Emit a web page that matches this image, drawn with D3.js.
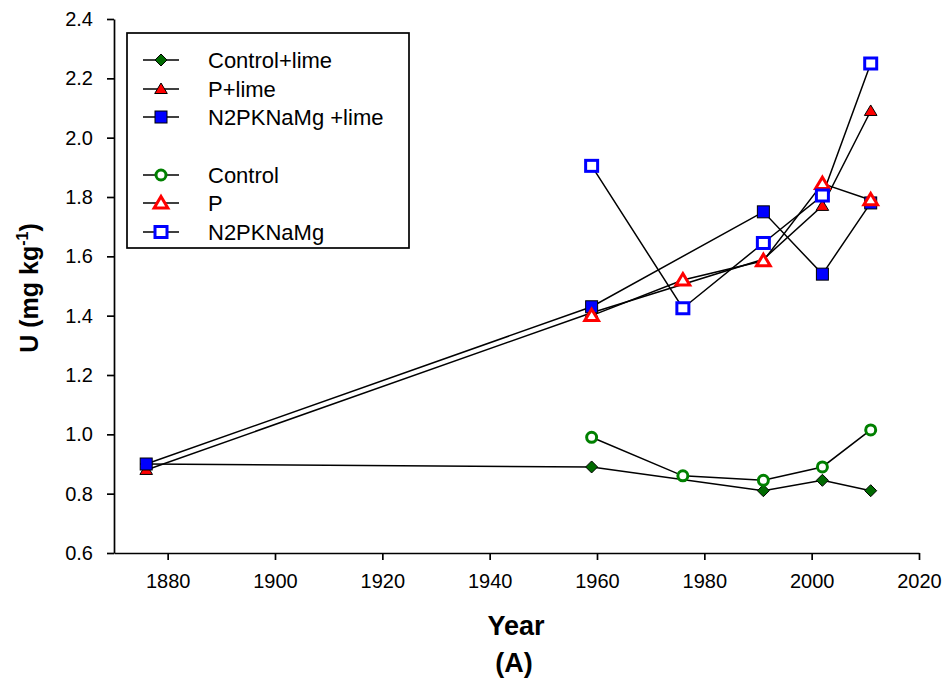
<!DOCTYPE html>
<html>
<head>
<meta charset="utf-8">
<script src="https://cdn.jsdelivr.net/npm/d3@7/dist/d3.min.js"></script>
<style>
  html, body { margin: 0; padding: 0; background: #fff; }
  svg text { font-family: "Liberation Sans", Arial, sans-serif; fill: #000; }
</style>
</head>
<body>
<svg id="chart" width="948" height="684"></svg>
<script>
// Sampling years
const yearsLime = [1876, 1959, 1991, 2002, 2011];
const yearsOpen = [1959, 1976, 1991, 2002, 2011];

// U concentrations (mg/kg)
const controlLime = [0.90, 0.89, 0.81, 0.845, 0.81];
const pLime       = [0.88, 1.41, 1.59, 1.77, 2.09];
const npkLime     = [0.90, 1.43, 1.75, 1.54, 1.78];
const control     = [0.99, 0.86, 0.845, 0.89, 1.015];
const pOnly       = [1.40, 1.52, 1.585, 1.845, 1.79];
const npk         = [1.905, 1.425, 1.645, 1.805, 2.25];

const xTicks = [1880, 1900, 1920, 1940, 1960, 1980, 2000, 2020];
const yTicks = [0.6, 0.8, 1.0, 1.2, 1.4, 1.6, 1.8, 2.0, 2.2, 2.4];

const seriesNames = ["Control+lime", "P+lime", "N2PKNaMg +lime", "Control", "P", "N2PKNaMg"];

const svg = d3.select("#chart");

const x = d3.scaleLinear().domain([1870, 2020]).range([114, 919]);
const y = d3.scaleLinear().domain([0.6, 2.4]).range([553, 19]);

const GREEN = "#008000", DKGREEN = "#006a00", RED = "#ff0000", BLUE = "#0000ff";

const series = [
  { name: seriesNames[0], years: yearsLime, vals: controlLime, shape: "diamond",  fill: DKGREEN, stroke: "#000", sw: 1 },
  { name: seriesNames[1], years: yearsLime, vals: pLime,       shape: "triangle", fill: RED,     stroke: "#000", sw: 1 },
  { name: seriesNames[2], years: yearsLime, vals: npkLime,     shape: "square",   fill: BLUE,    stroke: "#000", sw: 1 },
  { name: seriesNames[3], years: yearsOpen, vals: control,     shape: "circle",   fill: "#fff",  stroke: GREEN,  sw: 3 },
  { name: seriesNames[4], years: yearsOpen, vals: pOnly,       shape: "triangle", fill: "#fff",  stroke: RED,    sw: 3 },
  { name: seriesNames[5], years: yearsOpen, vals: npk,         shape: "square",   fill: "#fff",  stroke: BLUE,   sw: 3 }
];

// Marker drawing helper
function marker(g, s, cx, cy) {
  const open = s.fill === "#fff";
  let el;
  if (s.shape === "square") {
    const w = open ? 12 : 12, h = open ? 11 : 12;
    el = g.append("rect").attr("x", cx - w / 2).attr("y", cy - h / 2).attr("width", w).attr("height", h);
  } else if (s.shape === "circle") {
    el = g.append("circle").attr("cx", cx).attr("cy", cy).attr("r", 5);
  } else if (s.shape === "triangle") {
    const r = open ? 6.5 : 6;
    el = g.append("path").attr("d",
      `M${cx},${cy - r}L${cx + r * 1.05},${cy + r * 0.75}L${cx - r * 1.05},${cy + r * 0.75}Z`);
  } else {
    const r = 6;
    el = g.append("path").attr("d", `M${cx},${cy - r}L${cx + r},${cy}L${cx},${cy + r}L${cx - r},${cy}Z`);
  }
  el.attr("fill", s.fill).attr("stroke", s.stroke).attr("stroke-width", s.sw);
}

// Axes
const xAxis = svg.append("g").attr("transform", `translate(0,${y(0.6)})`)
  .call(d3.axisBottom(x).tickValues(xTicks).tickFormat(d3.format("d")).tickSize(7).tickPadding(14).tickSizeOuter(0));
const yAxis = svg.append("g").attr("transform", `translate(${x(1870)},0)`)
  .call(d3.axisLeft(y).tickValues(yTicks).tickFormat(d3.format(".1f")).tickSize(7).tickPadding(14).tickSizeOuter(0));
[xAxis, yAxis].forEach(a => {
  a.select(".domain").attr("stroke", "#000").attr("stroke-width", 1.7);
  a.selectAll(".tick line").attr("stroke", "#000").attr("stroke-width", 1.7);
  a.selectAll(".tick text").attr("font-size", 20).attr("fill", "#000")
    .style("font-family", '"Liberation Sans", Arial, sans-serif');
});

// Lines
const line = d3.line().x(d => x(d[0])).y(d => y(d[1]));
const plot = svg.append("g");
series.forEach(s => {
  plot.append("path")
    .attr("d", line(s.years.map((yr, i) => [yr, s.vals[i]])))
    .attr("fill", "none").attr("stroke", "#000").attr("stroke-width", 1.5);
});
// Markers
series.forEach(s => {
  const g = plot.append("g");
  s.years.forEach((yr, i) => marker(g, s, x(yr), y(s.vals[i])));
});

// Axis titles
svg.append("text").attr("x", 516).attr("y", 635).attr("text-anchor", "middle")
  .attr("font-size", 27).attr("font-weight", "bold").text("Year");
svg.append("text").attr("x", 514).attr("y", 672).attr("text-anchor", "middle")
  .attr("font-size", 27).attr("font-weight", "bold").text("(A)");

const yt = svg.append("text").attr("transform", "translate(38,288) rotate(-90)")
  .attr("text-anchor", "middle").attr("font-size", 25).attr("font-weight", "bold");
yt.append("tspan").text("U (mg kg");
yt.append("tspan").attr("dy", -10).attr("font-size", 16).text("-1");
yt.append("tspan").attr("dy", 10).text(")");

// Legend
const lg = svg.append("g");
lg.append("rect").attr("x", 127).attr("y", 33).attr("width", 282).attr("height", 215)
  .attr("fill", "#fff").attr("stroke", "#000").attr("stroke-width", 1.7);
const rowY = [60, 89, 117, 175, 203, 232];
series.forEach((s, i) => {
  const cy = rowY[i];
  lg.append("line").attr("x1", 143).attr("x2", 179).attr("y1", cy).attr("y2", cy)
    .attr("stroke", "#000").attr("stroke-width", 1.5);
  marker(lg, s, 161, cy);
  lg.append("text").attr("x", 208).attr("y", cy).attr("dy", "0.36em")
    .attr("font-size", 22).text(s.name);
});
</script>
</body>
</html>
